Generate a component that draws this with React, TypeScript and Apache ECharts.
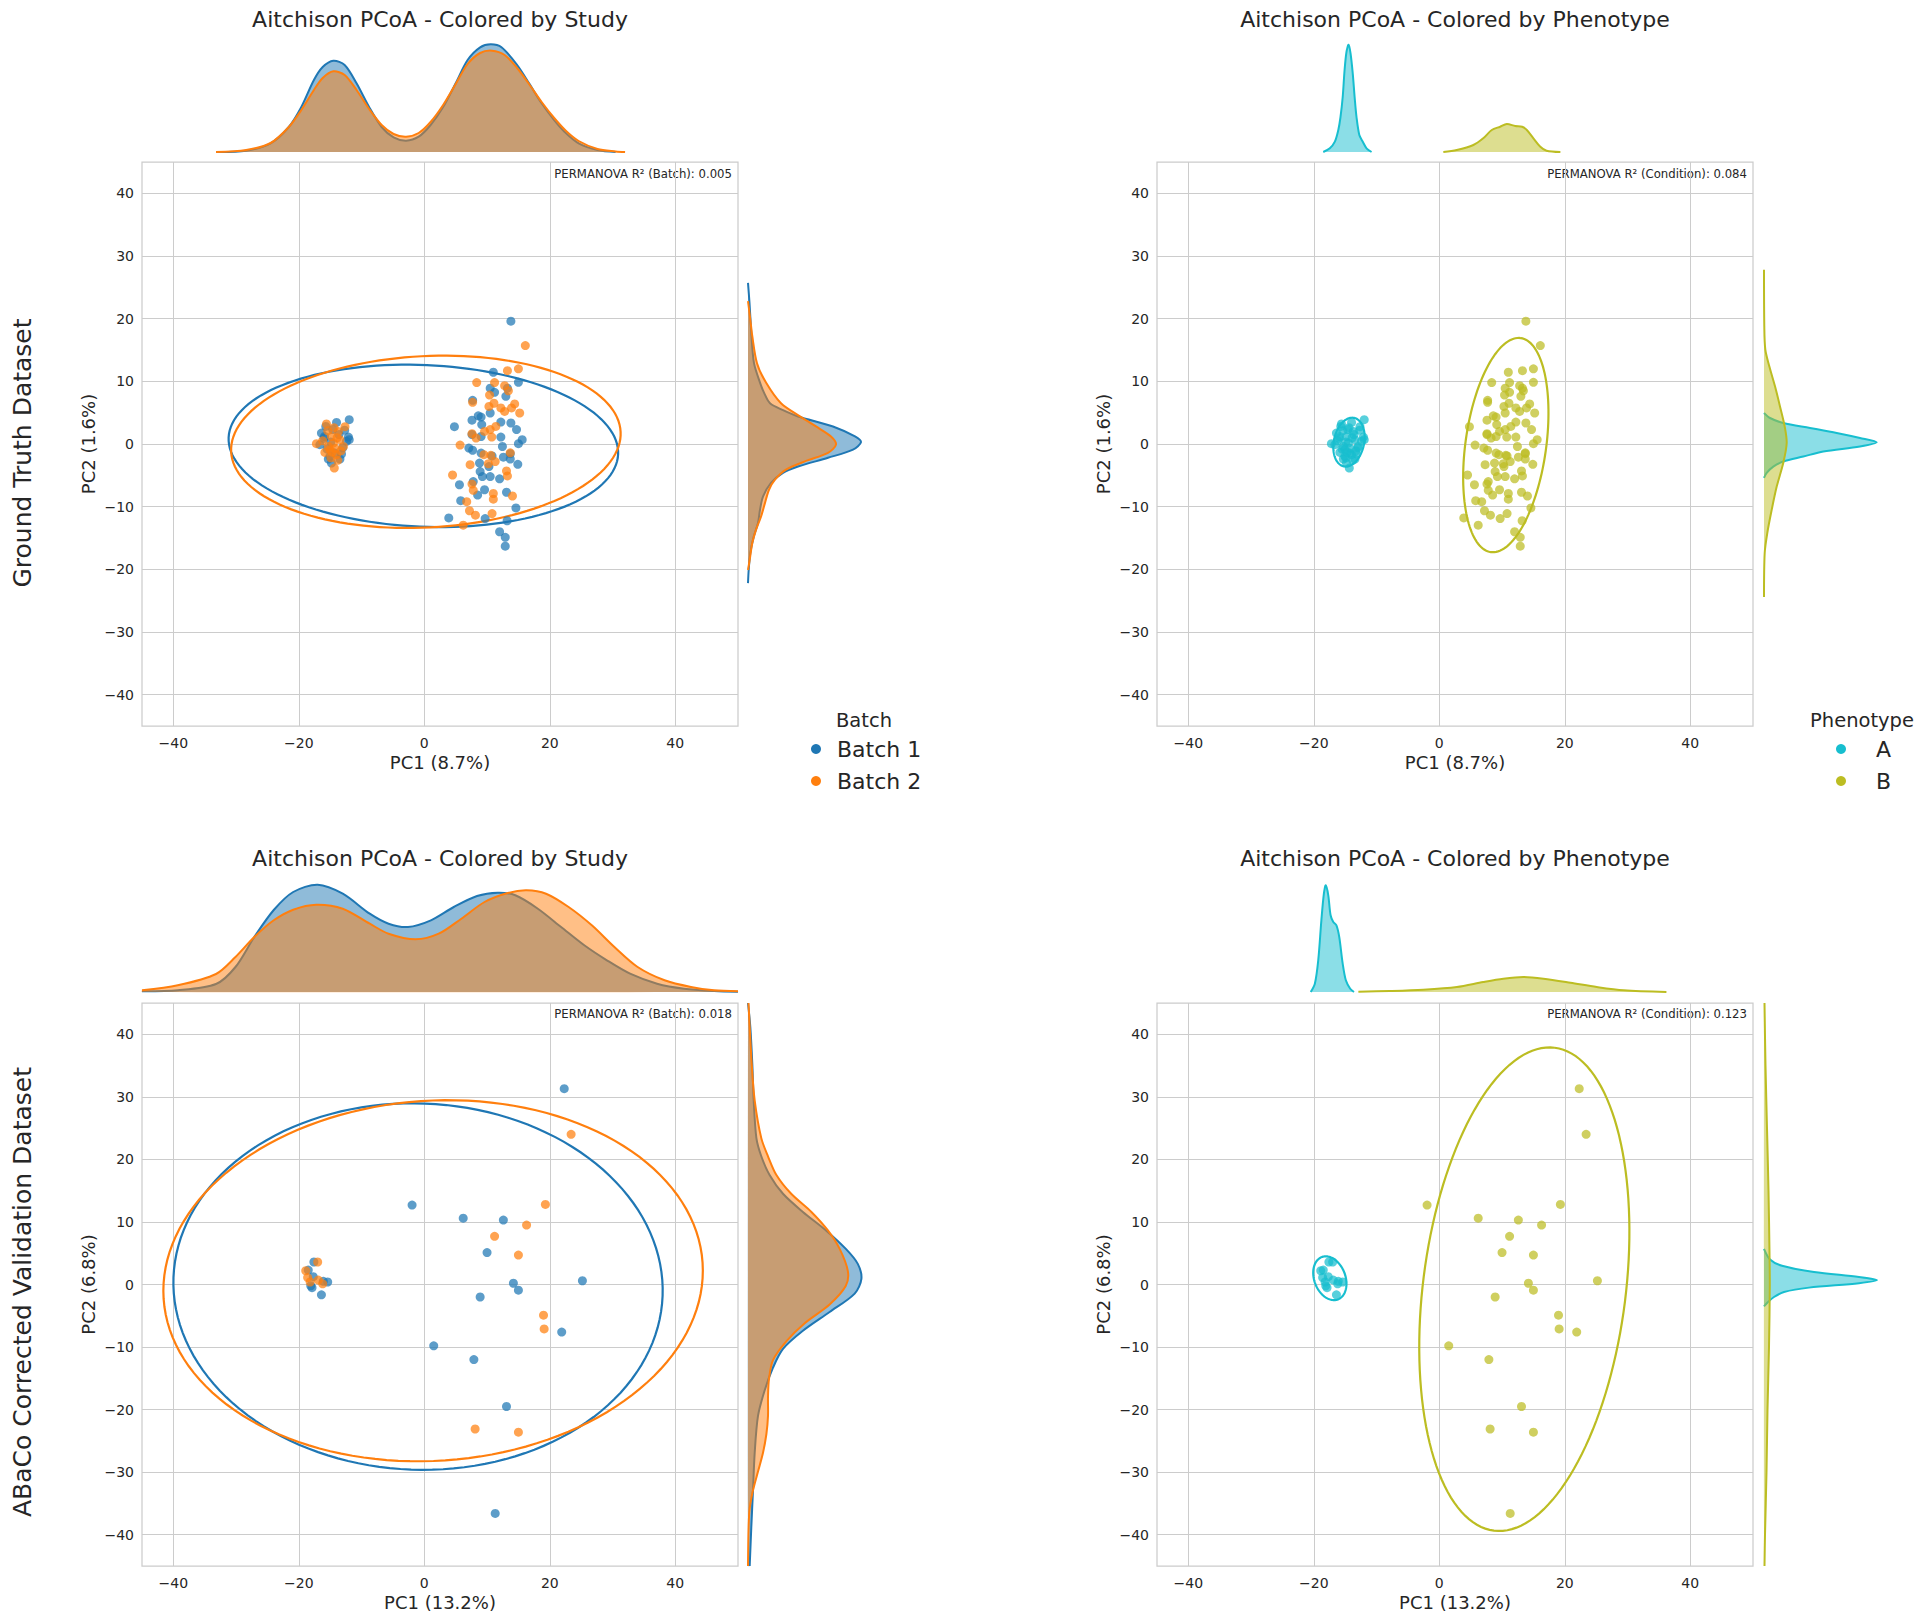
import React, { useEffect, useRef } from 'react';
import * as echarts from 'echarts';

const FONT = 'DejaVu Sans';
const TXT = '#262626';
const BLUE = '#1f77b4';
const ORANGE = '#ff7f0e';
const CYAN = '#17becf';
const OLIVE = '#bcbd22';

const xTicks = [-40, -20, 0, 20, 40];
const yTicks = [-40, -30, -20, -10, 0, 10, 20, 30, 40];

// ---------- Ground truth dataset (PC1, PC2) ----------
const gtBatch1Left = [
  [-11.97, 3.88], [-13.99, 3.45], [-15.7, 2.8], [-16.4, 1.75], [-12.1, 1.1], [-11.97, 0.69], [-16.65, -0.11],
  [-15.05, -1.97], [-13.45, -2.4], [-14.8, -3.04], [-12.4, 0.42], [-15.5, -0.8], [-14.25, -1.45], [-16.0, 0.9],
  [-13.0, -0.6], [-14.6, 2.3], [-15.9, 1.2], [-13.6, 1.5], [-14.9, 0.3], [-13.2, -1.6], [-15.3, -2.4], [-12.7, 2.2],
];
const gtBatch1Right = [
  [13.8, 19.6], [11.0, 11.45], [15.0, 9.85], [10.5, 8.9], [11.2, 8.25], [13.25, 8.9], [13.0, 7.6], [7.7, 6.97],
  [10.5, 4.95], [8.6, 4.5], [9.05, 4.3], [7.6, 3.8], [9.15, 3.1], [12.2, 3.5], [13.8, 3.35], [4.8, 2.76], [14.7, 2.3],
  [7.6, 1.5], [12.2, 1.1], [9.05, 1.2], [15.6, 0.69], [15.0, 0.05], [7.1, -0.65], [7.7, -1.0], [12.45, -0.4],
  [9.05, -1.45], [13.7, -1.55], [10.8, -1.9], [12.6, -2.1], [8.8, -3.05], [14.9, -3.25], [13.7, -2.4], [10.3, -3.6],
  [8.9, -4.4], [10.5, -5.2], [12.0, -5.55], [9.26, -5.2], [5.6, -6.5], [7.8, -6.0], [9.6, -7.3], [13.1, -7.7],
  [8.5, -8.15], [5.8, -9.05], [14.6, -10.2], [3.9, -11.8], [9.7, -11.9], [13.2, -12.25], [12.0, -14.0],
  [12.9, -14.9], [12.9, -16.3],
];
const gtBatch2Left = [
  [-17.2, 0.05], [-15.6, 3.2], [-12.65, 2.76], [-14.35, -3.84], [-12.9, -0.38], [-13.7, 2.0], [-14.8, 1.2],
  [-14.5, 0.15], [-15.05, -0.9], [-14.0, -1.7], [-15.3, -0.4], [-13.45, 0.69], [-15.85, -1.35], [-14.2, -0.7],
  [-14.9, -2.2], [-13.9, 1.0], [-15.4, 2.1], [-14.4, 2.6], [-13.3, -1.1], [-16.2, 0.5], [-14.7, -1.3], [-13.8, -2.6],
];
const gtBatch2Right = [
  [16.1, 15.7], [13.25, 11.7], [15.0, 12.0], [8.35, 9.8], [11.2, 9.8], [12.8, 9.3], [13.4, 8.5], [10.4, 7.8],
  [11.1, 6.5], [7.7, 6.65], [10.3, 6.0], [12.2, 5.75], [14.4, 6.4], [13.9, 5.75], [15.2, 4.95], [12.8, 5.2],
  [11.4, 2.8], [10.5, 2.3], [9.6, 2.0], [7.6, 1.65], [8.25, 0.95], [10.75, 1.1], [5.7, -0.17], [13.7, -1.4],
  [9.5, -1.7], [10.6, -1.8], [11.3, -2.8], [10.2, -3.15], [7.3, -3.3], [4.5, -4.95], [13.1, -4.3], [13.25, -5.1],
  [7.6, -6.4], [7.8, -7.4], [11.0, -7.9], [11.0, -8.8], [14.05, -8.3], [6.76, -9.2], [7.2, -10.65], [8.15, -11.35],
  [10.8, -11.1], [6.2, -12.95],
];

// ---------- ABaCo corrected validation dataset ----------
const vcBatch1Left = [
  [-17.6, 3.6], [-18.5, 2.3], [-17.7, 1.25], [-18.1, -0.2], [-17.9, -0.5], [-15.4, 0.4], [-16.4, -1.65], [-16.1, 0.5],
];
const vcBatch1Right = [
  [-1.95, 12.7], [6.2, 10.6], [12.6, 10.3], [10.0, 5.1], [14.2, 0.2], [15.0, -0.9], [8.9, -2.0], [25.2, 0.6],
  [21.9, -7.6], [22.3, 31.3], [1.5, -9.8], [7.9, -12.0], [13.1, -19.5], [11.3, -36.6],
];
const vcBatch2Left = [
  [-17.0, 3.6], [-18.9, 2.2], [-18.6, 1.1], [-16.9, 0.7], [-16.2, 0.1], [-18.2, 0.4],
];
const vcBatch2Right = [
  [19.3, 12.8], [16.3, 9.5], [11.2, 7.7], [15.0, 4.7], [19.0, -4.9], [19.1, -7.1], [23.4, 24.0], [8.1, -23.1], [15.0, -23.6],
];

// ---------- Confidence ellipses: [cx, cy, semiMajor, semiMinor, angleDeg] ----------
const gtBatch1Ellipse = [-0.15, -0.3, 31.07, 12.9, -2.46];
const gtBatch2Ellipse = [0.25, 0.35, 31.08, 13.67, 2.94];
const gtPhenoAEllipse = [-14.4, 0.3, 3.95, 2.41, 77.9];
const gtPhenoBEllipse = [10.6, -0.17, 17.24, 6.43, 82.06];
const vcBatch1Ellipse = [-1.0, -0.33, 39.01, 29.28, -2.16];
const vcBatch2Ellipse = [1.4, 0.6, 43.05, 28.78, 3.87];
const vcPhenoAEllipse = [-17.45, 1.0, 3.62, 2.48, 110.7];
const vcPhenoBEllipse = [13.55, -0.75, 38.9, 16.16, 82.85];

// ---------- Marginal densities: top = [PC1, density], right = [density, PC2] ----------
const gtTopBatch1 = [[-33.2,0],[-28.4,0.0013],[-24.5,0.0087],[-21.6,0.025],[-19.6,0.045],[-17.6,0.072],[-16.2,0.085],[-14.5,0.0913],[-12.7,0.087],[-10.8,0.0687],[-8.8,0.045],[-6.8,0.025],[-4.9,0.0147],[-2.9,0.0113],[-0.9,0.0153],[1.0,0.027],[3.0,0.045],[5.0,0.0687],[6.9,0.092],[8.9,0.1047],[10.6,0.1077],[12.3,0.1047],[14.8,0.087],[16.7,0.0687],[18.7,0.0487],[20.7,0.032],[22.6,0.0187],[24.6,0.0087],[27.6,0.002],[30.5,0]];
const gtTopBatch2 = [[-33.2,0],[-28.4,0.002],[-24.5,0.009],[-21.6,0.025],[-19.6,0.042],[-17.6,0.062],[-16.2,0.074],[-14.5,0.0807],[-12.7,0.077],[-10.8,0.062],[-8.8,0.043],[-6.8,0.027],[-4.9,0.018],[-2.9,0.0153],[-0.9,0.019],[1.0,0.03],[3.0,0.047],[5.0,0.068],[6.9,0.088],[8.9,0.099],[10.8,0.1013],[12.8,0.097],[14.8,0.084],[16.7,0.068],[18.7,0.05],[20.7,0.034],[22.6,0.021],[24.6,0.011],[27.6,0.003],[30.5,0.0006],[32.0,0]];
const gtRightBatch1 = [[0,25.7],[0.0015,22.5],[0.0035,17.2],[0.006,12.9],[0.012,9.8],[0.016,8.2],[0.022,6.5],[0.035,5.4],[0.05,4.4],[0.085,2.8],[0.107,1.2],[0.113,0.3],[0.105,-0.9],[0.08,-2.2],[0.05,-3.6],[0.035,-4.6],[0.023,-6.2],[0.015,-8.4],[0.012,-10.5],[0.01,-12.6],[0.0057,-14.8],[0.0023,-17.4],[0.0007,-20.1],[0,-22.2]];
const gtRightBatch2 = [[0,22.8],[0.0023,19.9],[0.0043,17.2],[0.009,12.9],[0.018,9.8],[0.033,6.5],[0.052,4.4],[0.068,2.8],[0.083,1.2],[0.088,-0.1],[0.08,-1.4],[0.058,-2.7],[0.038,-4.1],[0.027,-5.7],[0.021,-7.3],[0.017,-9.4],[0.013,-11.6],[0.008,-13.7],[0.0043,-15.8],[0.0017,-18.5],[0,-20.1]];
const gtTopPhenoA = [[-18.5,0],[-17.45,0.0037],[-16.65,0.0103],[-16.1,0.022],[-15.75,0.035],[-15.4,0.055],[-15.1,0.082],[-14.8,0.1],[-14.46,0.1073],[-14.15,0.0987],[-13.8,0.0787],[-13.5,0.055],[-13.2,0.035],[-12.75,0.017],[-12.2,0.0103],[-11.6,0.0037],[-10.8,0]];
const gtTopPhenoB = [[0.64,0],[2.78,0.002],[5.43,0.007],[7.0,0.0137],[8.36,0.022],[9.7,0.0253],[10.76,0.028],[12.1,0.026],[13.2,0.0253],[13.95,0.022],[15.0,0.0137],[16.1,0.0053],[17.1,0.0013],[19.3,0]];
const gtRightPhenoA = [[0,4.95],[0.006,4.15],[0.0193,3.35],[0.046,2.56],[0.0727,1.76],[0.096,0.96],[0.1127,0.26],[0.096,-0.4],[0.0593,-1.2],[0.0393,-2.0],[0.0193,-2.8],[0.0093,-3.6],[0.0027,-4.6],[0,-5.4]];
const gtRightPhenoB = [[0,27.8],[0.0003,18.8],[0.0013,15.1],[0.0053,12.4],[0.011,9.2],[0.016,6.0],[0.0207,2.8],[0.0227,0.15],[0.0193,-3.0],[0.0127,-6.8],[0.0077,-10.5],[0.0033,-14.2],[0.0007,-17.4],[0,-24.4]];
const vcTopBatch1 = [[-45,0.0007],[-39.3,0.0017],[-33.2,0.008],[-30.1,0.025],[-27.1,0.055],[-24.0,0.082],[-20.9,0.1],[-17.0,0.1073],[-13.0,0.0983],[-8.7,0.0783],[-5.7,0.0683],[-2.6,0.065],[1.05,0.0717],[4.7,0.085],[8.4,0.096],[11.7,0.0993],[14.5,0.0967],[18.1,0.0833],[21.8,0.065],[25.5,0.0467],[29.1,0.0317],[32.8,0.0183],[37.1,0.0083],[41.4,0.0033],[46.2,0.001],[50,0.0003]];
const vcTopBatch2 = [[-45,0.0017],[-39.3,0.0067],[-33.2,0.018],[-30.1,0.035],[-27.1,0.055],[-24.0,0.0717],[-20.9,0.0823],[-17.2,0.0873],[-13.0,0.0833],[-8.7,0.0683],[-5.7,0.0583],[-1.4,0.0527],[2.3,0.0583],[5.9,0.0733],[9.6,0.09],[13.3,0.099],[16.3,0.1017],[19.4,0.0983],[23.0,0.085],[26.7,0.0667],[30.3,0.045],[34.0,0.025],[38.3,0.0117],[42.5,0.005],[46.2,0.0017],[50,0.0007]];
const vcRightBatch1 = [[0,45],[0.0023,41.2],[0.0043,35.3],[0.0057,29.4],[0.0084,23.4],[0.0133,20.5],[0.0216,17.5],[0.035,14.5],[0.0549,11.6],[0.0783,8.6],[0.0981,5.65],[0.1098,3.3],[0.1134,0.9],[0.1067,-1.45],[0.0816,-4.4],[0.0549,-7.4],[0.035,-10.3],[0.025,-13.3],[0.0167,-16.9],[0.01,-21.0],[0.0067,-26.9],[0.005,-32.9],[0.0033,-38.8],[0.0017,-45]];
const vcRightBatch2 = [[0.0005,45],[0.0017,41.2],[0.0037,35.3],[0.0067,29.4],[0.0133,23.4],[0.02,20.5],[0.0284,17.5],[0.0432,14.5],[0.0634,11.6],[0.0801,8.6],[0.0918,5.65],[0.0999,2.1],[0.0977,-0.25],[0.0816,-3.2],[0.0567,-6.2],[0.0383,-9.1],[0.025,-12.1],[0.021,-15.1],[0.02,-18.0],[0.02,-21.0],[0.0184,-23.9],[0.015,-26.9],[0.01,-29.9],[0.005,-32.9],[0.0017,-35.8],[0.0006,-38.8],[0,-45]];
const vcTopPhenoA = [[-20.5,0],[-19.84,0.0083],[-19.3,0.0317],[-18.8,0.0717],[-18.4,0.0983],[-18.1,0.1067],[-17.7,0.0967],[-17.33,0.0767],[-16.9,0.07],[-16.4,0.0667],[-15.95,0.055],[-15.4,0.0283],[-14.9,0.0117],[-14.2,0.0033],[-13.6,0]];
const vcTopPhenoB = [[-12.9,0.0003],[-7.9,0.001],[-2.55,0.0023],[2.8,0.005],[7.0,0.01],[10.2,0.0133],[13.4,0.015],[16.6,0.0133],[20.9,0.0093],[25.1,0.005],[29.4,0.0017],[36.2,0]];
const vcRightPhenoA = [[0,5.7],[0.006,4],[0.018,3],[0.05,2],[0.095,1.2],[0.113,0.7],[0.095,0.2],[0.045,-0.5],[0.02,-1.2],[0.01,-2],[0.004,-2.8],[0,-3.5]];
const vcRightPhenoB = [[0.0005,45],[0.0015,35],[0.003,25],[0.0045,15],[0.0055,5],[0.0058,0],[0.005,-10],[0.0035,-20],[0.0025,-30],[0.001,-40],[0.0005,-45]];

const permanova = [
  'PERMANOVA R² (Batch): 0.005',
  'PERMANOVA R² (Condition): 0.084',
  'PERMANOVA R² (Batch): 0.018',
  'PERMANOVA R² (Condition): 0.123',
];

const fmt = (v: number) => (v < 0 ? '\u2212' + Math.abs(v) : String(v));

function mainX(gridIndex: number, name: string) {
  return {
    type: 'value', gridIndex, min: -45, max: 50, name, nameLocation: 'middle', nameGap: 27,
    nameTextStyle: { fontSize: 18, color: TXT, fontFamily: FONT },
    axisLine: { show: false },
    axisTick: { show: false, customValues: xTicks },
    axisLabel: { customValues: xTicks, formatter: fmt, fontSize: 14, color: TXT, fontFamily: FONT, margin: 10 },
    splitLine: { show: true, lineStyle: { color: '#cccccc', width: 1 } },
  };
}
function mainY(gridIndex: number, name: string) {
  return {
    type: 'value', gridIndex, min: -45, max: 45, name, nameLocation: 'middle', nameGap: 45,
    nameTextStyle: { fontSize: 18, color: TXT, fontFamily: FONT },
    axisLine: { show: false },
    axisTick: { show: false, customValues: yTicks },
    axisLabel: { customValues: yTicks, formatter: fmt, fontSize: 14, color: TXT, fontFamily: FONT, margin: 8 },
    splitLine: { show: true, lineStyle: { color: '#cccccc', width: 1 } },
  };
}
function hidden(gridIndex: number, min: number, max: number) {
  return { type: 'value', gridIndex, min, max, show: false, splitLine: { show: false } };
}

function scatter(name: string, idx: number, data: number[][], color: string) {
  return {
    type: 'scatter', name, xAxisIndex: idx, yAxisIndex: idx, data, symbolSize: 9, silent: true,
    itemStyle: { color, opacity: 0.72 },
  };
}

function ellipse(idx: number, params: number[], color: string) {
  return {
    type: 'custom', xAxisIndex: idx, yAxisIndex: idx, silent: true, data: [params],
    renderItem: (_p: any, api: any) => {
      const cx = api.value(0), cy = api.value(1), a = api.value(2), b = api.value(3);
      const ang = (api.value(4) * Math.PI) / 180;
      const pts: number[][] = [];
      for (let i = 0; i <= 144; i++) {
        const t = (i / 144) * Math.PI * 2;
        const ex = a * Math.cos(t), ey = b * Math.sin(t);
        pts.push(api.coord([cx + ex * Math.cos(ang) - ey * Math.sin(ang), cy + ex * Math.sin(ang) + ey * Math.cos(ang)]));
      }
      return { type: 'polyline', shape: { points: pts }, style: { stroke: color, lineWidth: 2.2, fill: null } };
    },
  };
}

function kde(idx: number, pts: number[][], color: string, vertical: boolean) {
  return {
    type: 'custom', xAxisIndex: idx, yAxisIndex: idx, silent: true, data: [pts[0]],
    renderItem: (_p: any, api: any) => {
      const line = pts.map((p) => api.coord(p));
      const first = pts[0], last = pts[pts.length - 1];
      const base = vertical
        ? [api.coord([0, last[1]]), api.coord([0, first[1]])]
        : [api.coord([last[0], 0]), api.coord([first[0], 0])];
      return {
        type: 'group',
        children: [
          { type: 'polygon', shape: { points: line.concat(base), smooth: 0.3 }, style: { fill: color, opacity: 0.5 } },
          { type: 'polyline', shape: { points: line, smooth: 0.3 }, style: { stroke: color, lineWidth: 2, fill: null } },
        ],
      };
    },
  };
}

function text(x: number, y: number, t: string, size: number, align = 'center', rotation = 0) {
  return {
    type: 'text', x, y, rotation, silent: true,
    style: {
      text: t, fontSize: size, fontFamily: FONT, fill: TXT,
      align, textAlign: align, verticalAlign: 'middle', textVerticalAlign: 'middle',
    },
  };
}

function buildOption() {
  const grid = [
    { left: 142, top: 162, width: 596, height: 564 },
    { left: 1157, top: 162, width: 596, height: 564 },
    { left: 142, top: 1003, width: 596, height: 563 },
    { left: 1157, top: 1003, width: 596, height: 563 },
    { left: 142, top: 30, width: 596, height: 122 },
    { left: 1157, top: 30, width: 596, height: 122 },
    { left: 142, top: 870, width: 596, height: 122 },
    { left: 1157, top: 870, width: 596, height: 122 },
    { left: 748, top: 162, width: 130, height: 564 },
    { left: 1764, top: 162, width: 130, height: 564 },
    { left: 748, top: 1003, width: 130, height: 563 },
    { left: 1764, top: 1003, width: 130, height: 563 },
  ].map((g, i) => ({ ...g, show: i < 4, borderColor: '#cccccc', borderWidth: 1.25, backgroundColor: 'transparent' }));

  const xAxis = [
    mainX(0, 'PC1 (8.7%)'), mainX(1, 'PC1 (8.7%)'), mainX(2, 'PC1 (13.2%)'), mainX(3, 'PC1 (13.2%)'),
    hidden(4, -45, 50), hidden(5, -45, 50), hidden(6, -45, 50), hidden(7, -45, 50),
    hidden(8, 0, 0.13), hidden(9, 0, 0.13), hidden(10, 0, 0.13), hidden(11, 0, 0.13),
  ];
  const yAxis = [
    mainY(0, 'PC2 (1.6%)'), mainY(1, 'PC2 (1.6%)'), mainY(2, 'PC2 (6.8%)'), mainY(3, 'PC2 (6.8%)'),
    hidden(4, 0, 0.122), hidden(5, 0, 0.122), hidden(6, 0, 0.122), hidden(7, 0, 0.122),
    hidden(8, -45, 45), hidden(9, -45, 45), hidden(10, -45, 45), hidden(11, -45, 45),
  ];

  const series = [
    scatter('Batch 1', 0, [...gtBatch1Left, ...gtBatch1Right], BLUE),
    scatter('Batch 2', 0, [...gtBatch2Left, ...gtBatch2Right], ORANGE),
    ellipse(0, gtBatch1Ellipse, BLUE),
    ellipse(0, gtBatch2Ellipse, ORANGE),
    scatter('A', 1, [...gtBatch1Left, ...gtBatch2Left], CYAN),
    scatter('B', 1, [...gtBatch1Right, ...gtBatch2Right], OLIVE),
    ellipse(1, gtPhenoAEllipse, CYAN),
    ellipse(1, gtPhenoBEllipse, OLIVE),
    scatter('Batch 1', 2, [...vcBatch1Left, ...vcBatch1Right], BLUE),
    scatter('Batch 2', 2, [...vcBatch2Left, ...vcBatch2Right], ORANGE),
    ellipse(2, vcBatch1Ellipse, BLUE),
    ellipse(2, vcBatch2Ellipse, ORANGE),
    scatter('A', 3, [...vcBatch1Left, ...vcBatch2Left], CYAN),
    scatter('B', 3, [...vcBatch1Right, ...vcBatch2Right], OLIVE),
    ellipse(3, vcPhenoAEllipse, CYAN),
    ellipse(3, vcPhenoBEllipse, OLIVE),
    kde(4, gtTopBatch1, BLUE, false), kde(4, gtTopBatch2, ORANGE, false),
    kde(8, gtRightBatch1, BLUE, true), kde(8, gtRightBatch2, ORANGE, true),
    kde(5, gtTopPhenoA, CYAN, false), kde(5, gtTopPhenoB, OLIVE, false),
    kde(9, gtRightPhenoA, CYAN, true), kde(9, gtRightPhenoB, OLIVE, true),
    kde(6, vcTopBatch1, BLUE, false), kde(6, vcTopBatch2, ORANGE, false),
    kde(10, vcRightBatch1, BLUE, true), kde(10, vcRightBatch2, ORANGE, true),
    kde(7, vcTopPhenoA, CYAN, false), kde(7, vcTopPhenoB, OLIVE, false),
    kde(11, vcRightPhenoA, CYAN, true), kde(11, vcRightPhenoB, OLIVE, true),
  ];

  const legendBase = {
    orient: 'vertical', icon: 'circle', itemHeight: 10, itemGap: 10, selectedMode: false, padding: 0,
    itemStyle: { opacity: 1 },
    textStyle: { fontSize: 22, color: TXT, fontFamily: FONT, lineHeight: 20 },
  };

  const graphic = [
    text(440, 19, 'Aitchison PCoA - Colored by Study', 22),
    text(1455, 19, 'Aitchison PCoA - Colored by Phenotype', 22),
    text(440, 858, 'Aitchison PCoA - Colored by Study', 22),
    text(1455, 858, 'Aitchison PCoA - Colored by Phenotype', 22),
    text(22, 453, 'Ground Truth Dataset', 25, 'center', Math.PI / 2),
    text(22, 1292, 'ABaCo Corrected Validation Dataset', 25, 'center', Math.PI / 2),
    text(732, 174, permanova[0], 11.7, 'right'),
    text(1747, 174, permanova[1], 11.7, 'right'),
    text(732, 1014, permanova[2], 11.7, 'right'),
    text(1747, 1014, permanova[3], 11.7, 'right'),
    text(864, 720, 'Batch', 19.5),
    text(1862, 720, 'Phenotype', 19.5),
  ];

  return {
    animation: false,
    backgroundColor: '#ffffff',
    textStyle: { fontFamily: FONT },
    grid,
    xAxis,
    yAxis,
    series,
    legend: [
      { ...legendBase, itemWidth: 32, data: ['Batch 1', 'Batch 2'], left: 811, top: 738 },
      { ...legendBase, itemWidth: 60, data: ['A', 'B'], left: 1836, top: 738 },
    ],
    graphic,
  };
}

export default function App() {
  const ref = useRef<HTMLDivElement>(null);
  useEffect(() => {
    document.body.style.margin = '0';
    const chart = echarts.init(ref.current as HTMLDivElement, null, { renderer: 'svg' });
    chart.setOption(buildOption() as any);
    return () => chart.dispose();
  }, []);
  return <div ref={ref} style={{ position: 'absolute', left: 0, top: 0, width: 1930, height: 1624 }} />;
}
